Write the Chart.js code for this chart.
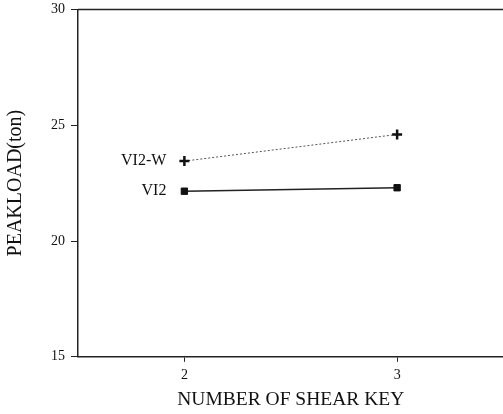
<!DOCTYPE html>
<html>
<head>
<meta charset="utf-8">
<script src="https://cdn.jsdelivr.net/npm/chart.js@4/dist/chart.umd.min.js"></script>
<style>
  html, body { margin: 0; padding: 0; background: #fff; overflow: hidden; }
  #wrap { width: 511px; height: 418px; margin-top: -5px; }
</style>
</head>
<body>
<div id="wrap"><canvas id="chart"></canvas></div>
<script>
// number of shear keys
const keys = [2, 3];
// peak load (ton)
const vi2w = [23.45, 24.6];
const vi2 = [22.15, 22.3];
const seriesNames = ['VI2-W', 'VI2'];
const yTicks = [15, 20, 25, 30];
const xTicks = [2, 3];

const serif = '"Liberation Serif", "DejaVu Serif", serif';

// draws the series names left of the first point, and the top frame line
const labelPlugin = {
    id: 'seriesLabels',
    afterDatasetsDraw: function (chart) {
        const ctx = chart.ctx;
        const area = chart.chartArea;
        ctx.save();
        ctx.strokeStyle = '#222';
        ctx.lineWidth = 1.5;
        ctx.beginPath();
        ctx.moveTo(area.left, area.top);
        ctx.lineTo(area.right, area.top);
        ctx.stroke();

        ctx.fillStyle = '#111';
        ctx.font = '16px ' + serif;
        ctx.textAlign = 'right';
        ctx.textBaseline = 'middle';
        chart.data.datasets.forEach(function (ds, i) {
            const pt = chart.getDatasetMeta(i).data[0];
            ctx.fillText(seriesNames[i], pt.x - 18, pt.y);
        });
        ctx.restore();
    }
};

new Chart(document.getElementById('chart').getContext('2d'), {
    type: 'line',
    data: {
        datasets: [{
            label: seriesNames[0],
            data: keys.map((k, i) => ({ x: k, y: vi2w[i] })),
            borderColor: '#555',
            borderWidth: 1,
            borderDash: [2, 2],
            pointStyle: 'cross',
            pointRadius: 5,
            pointBorderWidth: 2.5,
            pointBorderColor: '#111',
            pointBackgroundColor: '#111',
            tension: 0
        }, {
            label: seriesNames[1],
            data: keys.map((k, i) => ({ x: k, y: vi2[i] })),
            borderColor: '#222',
            borderWidth: 1.5,
            pointStyle: 'rect',
            pointRadius: 4.5,
            pointBorderWidth: 1,
            pointBorderColor: '#111',
            pointBackgroundColor: '#111',
            tension: 0
        }]
    },
    options: {
        responsive: true,
        maintainAspectRatio: false,
        animation: false,
        layout: { padding: { top: 0, right: 0, left: 0, bottom: 1 } },
        plugins: {
            legend: { display: false },
            tooltip: { enabled: false }
        },
        scales: {
            x: {
                type: 'linear',
                min: 1.5,
                max: 3.5,
                afterBuildTicks: function (axis) {
                    axis.ticks = xTicks.map(v => ({ value: v }));
                },
                border: { display: true, color: '#222', width: 1.5 },
                grid: { drawOnChartArea: false, drawTicks: true, tickLength: 5, color: '#222' },
                ticks: { color: '#111', font: { family: serif, size: 14 }, padding: 5 },
                title: {
                    display: true,
                    text: 'NUMBER OF SHEAR KEY',
                    color: '#111',
                    font: { family: serif, size: 19.5 },
                    padding: { top: 0, bottom: 0 }
                }
            },
            y: {
                min: 15,
                max: 30,
                afterBuildTicks: function (axis) {
                    axis.ticks = yTicks.map(v => ({ value: v }));
                },
                border: { display: true, color: '#222', width: 1.5 },
                grid: { drawOnChartArea: false, drawTicks: true, tickLength: 7, color: '#222' },
                ticks: { color: '#111', font: { family: serif, size: 14 }, padding: 6 },
                title: {
                    display: true,
                    text: 'PEAKLOAD(ton)',
                    color: '#111',
                    font: { family: serif, size: 20 },
                    padding: { top: 4, bottom: 17 }
                }
            }
        }
    },
    plugins: [labelPlugin]
});
</script>
</body>
</html>
